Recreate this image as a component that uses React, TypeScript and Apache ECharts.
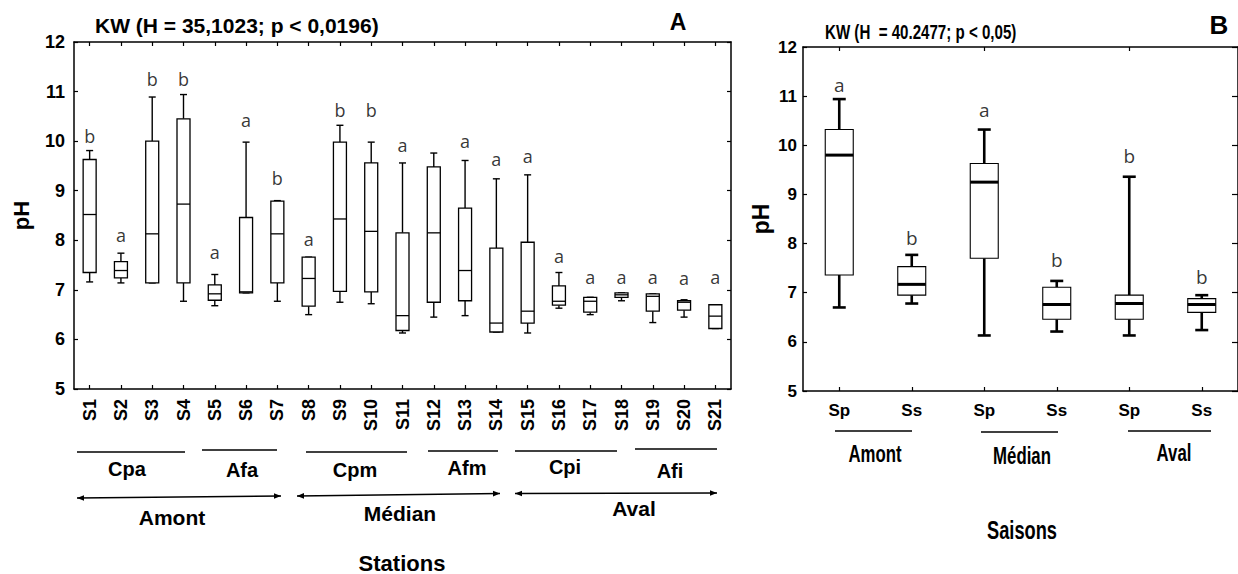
import React, { useEffect, useRef } from 'react';
import * as echarts from 'echarts';

// ---------- Panel A : stations ----------
const stations = ['S1','S2','S3','S4','S5','S6','S7','S8','S9','S10','S11','S12','S13','S14','S15','S16','S17','S18','S19','S20','S21'];
const whiskerLowA  = [7.16, 7.14, 7.14, 6.77, 6.68, 6.94, 6.77, 6.50, 6.75, 6.72, 6.13, 6.45, 6.48, 6.15, 6.13, 6.63, 6.50, 6.78, 6.34, 6.45, 6.22];
const q1A          = [7.35, 7.24, 7.14, 7.14, 6.79, 6.94, 7.14, 6.67, 6.97, 6.96, 6.18, 6.75, 6.78, 6.15, 6.33, 6.69, 6.55, 6.85, 6.57, 6.59, 6.22];
const medianA      = [8.52, 7.39, 8.13, 8.73, 6.92, 6.96, 8.13, 7.23, 8.43, 8.18, 6.48, 8.15, 7.39, 6.33, 6.57, 6.77, 6.77, 6.90, 6.87, 6.75, 6.47];
const q3A          = [9.63, 7.57, 10.00, 10.45, 7.10, 8.46, 8.79, 7.66, 9.98, 9.56, 8.15, 9.48, 8.65, 7.84, 7.96, 7.08, 6.85, 6.94, 6.92, 6.78, 6.70];
const whiskerHighA = [9.81, 7.74, 10.89, 10.94, 7.31, 9.98, 8.80, 7.66, 10.32, 9.98, 9.56, 9.76, 9.61, 9.24, 9.32, 7.35, 6.85, 6.94, 6.92, 6.80, 6.70];
const lettersA     = ['b','a','b','b','a','a','b','a','b','b','a','','a','a','a','a','a','a','a','a','a'];
const letterLevelA = [10.11, 8.11, 11.25, 11.25, 7.76, 10.42, 9.26, 8.03, 10.63, 10.63, 9.92, 0, 10.0, 9.64, 9.71, 7.69, 7.25, 7.25, 7.25, 7.23, 7.25];

// ---------- Panel B : seasons ----------
const seasonKeys   = ['Amont-Sp','Amont-Ss','Médian-Sp','Médian-Ss','Aval-Sp','Aval-Ss'];
const seasonLabels = ['Sp','Ss','Sp','Ss','Sp','Ss'];
const whiskerLowB  = [6.70, 6.78, 6.13, 6.21, 6.13, 6.24];
const q1B          = [7.36, 6.95, 7.70, 6.46, 6.46, 6.60];
const medianB      = [9.80, 7.17, 9.25, 6.76, 6.78, 6.76];
const q3B          = [10.32, 7.53, 9.63, 7.11, 6.95, 6.88];
const whiskerHighB = [10.94, 7.77, 10.32, 7.24, 9.36, 6.95];
const lettersB     = ['a','b','a','b','b','b'];
const letterLevelB = [11.22, 8.12, 10.71, 7.66, 9.78, 7.31];

const yTicks = [5, 6, 7, 8, 9, 10, 11, 12];

const ARIAL = "'Liberation Sans', Arial, sans-serif";
const LETTER = "'Open Sans', 'Noto Sans', sans-serif";

function makeRender(boxW: number, capW: number, whiskerLW: number, boxLW: number, medLW: number) {
  return (params: any, api: any) => {
    const i = api.value(0);
    const pLow = api.coord([i, api.value(1)]);
    const x = pLow[0];
    const yLow = pLow[1];
    const yQ1 = api.coord([i, api.value(2)])[1];
    const yMed = api.coord([i, api.value(3)])[1];
    const yQ3 = api.coord([i, api.value(4)])[1];
    const yHigh = api.coord([i, api.value(5)])[1];
    const st = (w: number) => ({ stroke: '#000', lineWidth: w, fill: 'none' });
    return {
      type: 'group',
      children: [
        { type: 'line', shape: { x1: x, y1: yQ3, x2: x, y2: yHigh }, style: st(whiskerLW) },
        { type: 'line', shape: { x1: x, y1: yQ1, x2: x, y2: yLow }, style: st(whiskerLW) },
        { type: 'line', shape: { x1: x - capW / 2, y1: yHigh, x2: x + capW / 2, y2: yHigh }, style: st(whiskerLW) },
        { type: 'line', shape: { x1: x - capW / 2, y1: yLow, x2: x + capW / 2, y2: yLow }, style: st(whiskerLW) },
        { type: 'rect', shape: { x: x - boxW / 2, y: yQ3, width: boxW, height: Math.max(yQ1 - yQ3, 0.5) }, style: { fill: '#fff', stroke: '#000', lineWidth: boxLW } },
        { type: 'line', shape: { x1: x - boxW / 2, y1: yMed, x2: x + boxW / 2, y2: yMed }, style: st(medLW) },
      ],
    };
  };
}

function arrow(x1: number, y1: number, x2: number, y2: number): any[] {
  const ang = Math.atan2(y2 - y1, x2 - x1);
  const L = 7, W = 2.8;
  const head = (px: number, py: number, dir: number) => {
    const c = Math.cos(ang) * dir, s = Math.sin(ang) * dir;
    const bx = px - c * L, by = py - s * L;
    return {
      type: 'polygon',
      shape: { points: [[px, py], [bx - s * W, by + c * W], [bx + s * W, by - c * W]] },
      style: { fill: '#000' },
    };
  };
  return [
    { type: 'line', shape: { x1, y1, x2, y2 }, style: { stroke: '#000', lineWidth: 1.5 } },
    head(x2, y2, 1),
    head(x1, y1, -1),
  ];
}

function txt(text: string, x: number, y: number, size: number, scaleX = 1, align = 'center') {
  return {
    type: 'text',
    x, y,
    scaleX,
    style: { text, fill: '#000', font: `bold ${size}px ${ARIAL}`, align, verticalAlign: 'middle' },
  };
}

function hline(x1: number, x2: number, y: number) {
  return { type: 'line', shape: { x1, y1: y, x2, y2: y }, style: { stroke: '#000', lineWidth: 1.5 } };
}

export default function App() {
  const ref = useRef<HTMLDivElement>(null);

  useEffect(() => {
    if (!ref.current) return;
    const chart = echarts.init(ref.current, null, { renderer: 'svg' });

    const boxDataA = stations.map((_, i) => [i, whiskerLowA[i], q1A[i], medianA[i], q3A[i], whiskerHighA[i]]);
    const boxDataB = seasonKeys.map((_, i) => [i, whiskerLowB[i], q1B[i], medianB[i], q3B[i], whiskerHighB[i]]);
    const letterDataA = stations.map((_, i) => ({ value: [i, letterLevelA[i]], name: lettersA[i] })).filter((d) => d.name !== '');
    const letterDataB = seasonKeys.map((_, i) => ({ value: [i, letterLevelB[i]], name: lettersB[i] }));

    const axisLine = { show: true, lineStyle: { color: '#000', width: 1.5 } };
    const tick = { show: true, inside: true, length: 4, lineStyle: { color: '#000', width: 1.2 } };

    const valueAxis = (grid: number, pos: 'left' | 'right', labels: boolean, extra: any = {}) => ({
      type: 'value',
      gridIndex: grid,
      position: pos,
      min: yTicks[0],
      max: yTicks[yTicks.length - 1],
      interval: 1,
      axisLine,
      axisTick: tick,
      splitLine: { show: false },
      axisLabel: { show: labels, color: '#000', fontWeight: 'bold', fontSize: 18, fontFamily: ARIAL, margin: 9 },
      ...extra,
    });

    chart.setOption({
      animation: false,
      backgroundColor: '#fff',
      grid: [
        { left: 74, top: 42, width: 657, height: 347 },
        { left: 803, top: 47, width: 440, height: 344 },
      ],
      xAxis: [
        {
          type: 'category', gridIndex: 0, position: 'bottom', data: stations, boundaryGap: true,
          axisLine, axisTick: { ...tick, alignWithLabel: true },
          axisLabel: { rotate: 90, color: '#000', fontWeight: 'bold', fontSize: 18, fontFamily: ARIAL, margin: 10, interval: 0 },
        },
        {
          type: 'category', gridIndex: 0, position: 'top', data: stations, boundaryGap: true,
          axisLine, axisTick: { ...tick, alignWithLabel: true }, axisLabel: { show: false },
        },
        {
          type: 'category', gridIndex: 1, position: 'bottom', data: seasonKeys, boundaryGap: true,
          axisLine, axisTick: { ...tick, alignWithLabel: true },
          axisLabel: {
            color: '#000', fontWeight: 'bold', fontSize: 17, fontFamily: ARIAL, margin: 11, interval: 0,
            formatter: (_v: string, i: number) => seasonLabels[i],
          },
        },
        {
          type: 'category', gridIndex: 1, position: 'top', data: seasonKeys, boundaryGap: true,
          axisLine, axisTick: { ...tick, alignWithLabel: true }, axisLabel: { show: false },
        },
      ],
      yAxis: [
        valueAxis(0, 'left', true, {
          name: 'pH', nameLocation: 'middle', nameGap: 42, nameRotate: 90,
          nameTextStyle: { color: '#000', fontWeight: 'bold', fontSize: 22, fontFamily: ARIAL },
        }),
        valueAxis(0, 'right', false),
        valueAxis(1, 'left', true, {
          axisLabel: { show: true, color: '#000', fontWeight: 'bold', fontSize: 17, fontFamily: ARIAL, margin: 6 },
          name: 'pH', nameLocation: 'middle', nameGap: 31, nameRotate: 90,
          nameTextStyle: { color: '#000', fontWeight: 'bold', fontSize: 23, fontFamily: ARIAL },
        }),
        valueAxis(1, 'right', false, { axisTick: { ...tick, length: 6 } }),
      ],
      series: [
        {
          type: 'custom', name: 'pH stations', xAxisIndex: 0, yAxisIndex: 0, clip: false,
          renderItem: makeRender(13, 7, 1.4, 1.3, 1.3),
          encode: { x: 0, y: [1, 2, 3, 4, 5] },
          data: boxDataA,
        },
        {
          type: 'custom', name: 'pH saisons', xAxisIndex: 2, yAxisIndex: 2, clip: false,
          renderItem: makeRender(28, 13, 2.6, 1.1, 3),
          encode: { x: 0, y: [1, 2, 3, 4, 5] },
          data: boxDataB,
        },
        {
          type: 'scatter', xAxisIndex: 0, yAxisIndex: 0, symbolSize: 0, silent: true,
          itemStyle: { color: 'transparent' },
          label: { show: true, position: 'inside', formatter: '{b}', color: '#000', fontSize: 18, fontFamily: LETTER },
          data: letterDataA,
        },
        {
          type: 'scatter', xAxisIndex: 2, yAxisIndex: 2, symbolSize: 0, silent: true,
          itemStyle: { color: 'transparent' },
          label: { show: true, position: 'inside', formatter: '{b}', color: '#000', fontSize: 19, fontFamily: LETTER },
          data: letterDataB,
        },
      ],
      graphic: [
        // Panel A titles
        txt('KW (H = 35,1023; p < 0,0196)', 95, 25, 21, 1, 'left'),
        txt('A', 678, 22, 23),
        // Panel A group lines and labels
        hline(77, 185, 452), hline(202, 277, 450), hline(306, 407, 452),
        hline(428, 498, 451), hline(515, 617, 451), hline(635, 717, 449),
        txt('Cpa', 127, 469, 20), txt('Afa', 242, 470, 20), txt('Cpm', 355, 470, 20),
        txt('Afm', 467, 468, 20), txt('Cpi', 565, 467, 20), txt('Afi', 670, 471, 20),
        ...arrow(77, 498, 281, 496), ...arrow(297, 496, 500, 493.5), ...arrow(515, 493.5, 717, 493),
        txt('Amont', 172, 517, 21), txt('Médian', 400, 513, 21), txt('Aval', 634, 508, 21),
        txt('Stations', 402, 563, 22),
        // Panel B titles (condensed lettering)
        txt('KW (H  = 40.2477; p < 0,05)', 825, 32, 20, 0.755, 'left'),
        txt('B', 1219, 25, 26),
        hline(835, 912, 431), hline(981, 1058, 432), hline(1128, 1211, 431),
        txt('Amont', 875, 454, 23, 0.73), txt('Médian', 1022, 456, 23, 0.73), txt('Aval', 1174, 453, 23, 0.73),
        txt('Saisons', 1022, 530, 25, 0.73),
      ],
    });

    return () => chart.dispose();
  }, []);

  return <div ref={ref} style={{ position: 'fixed', left: 0, top: 0, width: 1238, height: 574, background: '#fff' }} />;
}
